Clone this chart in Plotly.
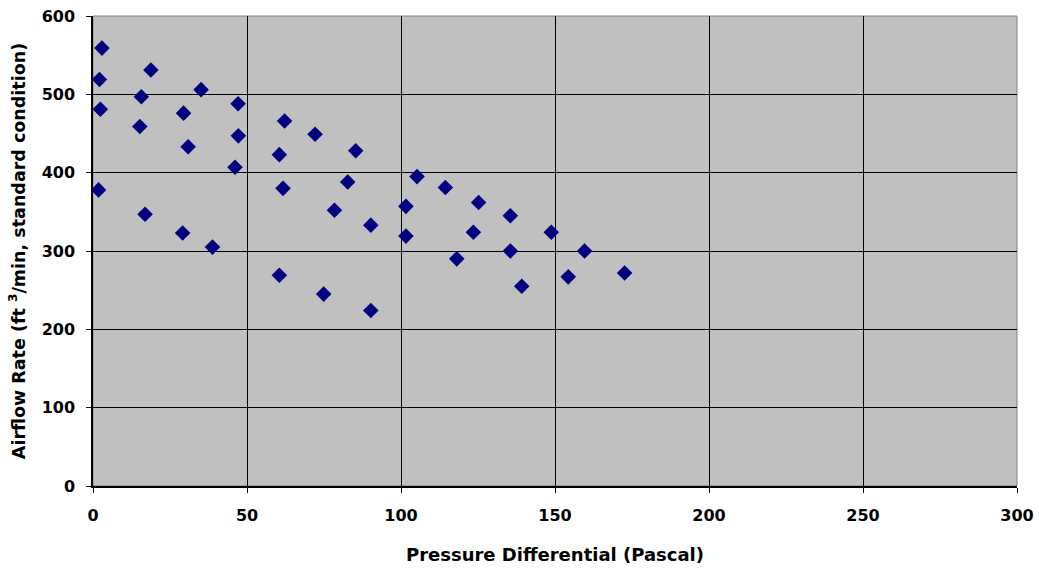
import plotly.graph_objects as go

pressure = [2.9, 2.1, 2.4, 1.8, 18.8, 15.7, 15.2, 16.9, 35.1, 29.4, 30.9, 29.1, 38.8,
            47.1, 47.2, 46.1, 62.2, 60.5, 61.7, 60.5, 72.1, 78.4, 74.9, 82.7, 85.3,
            90.2, 90.2, 105.2, 101.6, 101.6, 114.4, 125.2, 123.5, 118.1, 135.5, 135.5,
            139.2, 148.8, 159.6, 154.3, 172.6]
airflow = [559, 519, 481, 378, 531, 497, 459, 347, 506, 476, 433, 323, 305,
           488, 447, 407, 466, 423, 380, 269, 449, 352, 245, 388, 428,
           333, 224, 395, 357, 319, 381, 362, 324, 290, 345, 300,
           255, 324, 300, 267, 272]

x_ticks = [0, 50, 100, 150, 200, 250, 300]
y_ticks = [0, 100, 200, 300, 400, 500, 600]

font_family = "DejaVu Sans, Liberation Sans, Arial, sans-serif"

fig = go.Figure()
fig.add_trace(go.Scatter(
    x=pressure, y=airflow, mode="markers",
    marker=dict(symbol="diamond", size=12, color="#000080", line=dict(width=0)),
    showlegend=False, hoverinfo="x+y",
))

axis_common = dict(
    showgrid=True, gridcolor="#000000", gridwidth=1,
    showline=True, linecolor="#000000", linewidth=1.5,
    ticks="outside", ticklen=5, tickcolor="#000000", tickwidth=1,
    zeroline=False, automargin=False,
    tickfont=dict(family=font_family, size=16, color="#000000"),
)

fig.update_xaxes(
    range=[0, 300], tickvals=x_ticks, ticktext=[f"<b>{v}</b>" for v in x_ticks],
    ticklabelstandoff=9,
    title=dict(text="<b>Pressure Differential (Pascal)</b>", standoff=24,
               font=dict(family=font_family, size=18, color="#000000")),
    **axis_common,
)
fig.update_yaxes(
    range=[0, 600], tickvals=y_ticks, ticktext=[f"<b>{v}</b>" for v in y_ticks],
    ticklabelstandoff=8,
    title=dict(text="<b>Airflow Rate (ft <sup>3</sup>/min, standard condition)</b>", standoff=12,
               font=dict(family=font_family, size=17.5, color="#000000")),
    **axis_common,
)

fig.add_shape(type="rect", xref="paper", yref="paper", x0=0, y0=0, x1=1, y1=1,
              line=dict(color="#808080", width=1), fillcolor="rgba(0,0,0,0)", layer="below")

fig.update_layout(
    width=1039, height=576,
    margin=dict(l=93, r=22, t=16, b=90),
    plot_bgcolor="#C0C0C0", paper_bgcolor="#FFFFFF",
    font=dict(family=font_family, color="#000000"),
)

fig.write_html("out.html")
